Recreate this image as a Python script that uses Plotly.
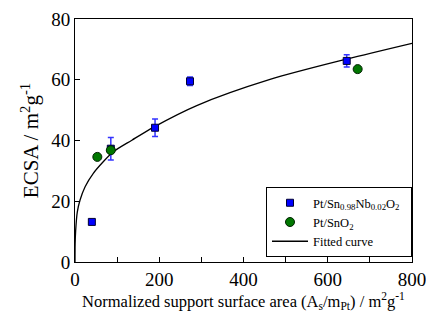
import plotly.graph_objects as go

# Pt/Sn0.98Nb0.02O2 (blue squares)
nb_x = [40, 85, 190, 273, 645]
nb_y = [13.2, 37.3, 44.2, 59.5, 66.2]
nb_err = [0, 3.7, 2.9, 1.4, 2.0]

# Pt/SnO2 (green circles)
sn_x = [53, 85, 671]
sn_y = [34.6, 36.8, 63.5]

# Fitted curve
fit_x = [0, 0.3, 1.6, 5.5, 12, 24, 43.5, 67, 91, 135, 188, 289, 463, 645, 800]
fit_y = [0, 6.0, 10.4, 16.5, 20.4, 24.8, 29.2, 33.0, 36.3, 40.1, 44.5, 51.5, 60.1, 66.8, 72.0]

serif = "Liberation Serif"

fig = go.Figure()
fig.add_trace(go.Scatter(
    x=fit_x, y=fit_y, mode="lines", name="Fitted curve", legendrank=3,
    line=dict(color="black", width=1.3, shape="spline", smoothing=0.8),
))
fig.add_trace(go.Scatter(
    x=nb_x, y=nb_y, mode="markers", legendrank=1,
    name="Pt/Sn<sub>0.98</sub>Nb<sub>0.02</sub>O<sub>2</sub>  ",
    marker=dict(symbol="square", size=7, color="#0000ff",
                line=dict(color="#000033", width=1)),
    error_y=dict(type="data", array=nb_err, visible=True, color="#3333ff",
                 thickness=1.5, width=3),
))
fig.add_trace(go.Scatter(
    x=sn_x, y=sn_y, mode="markers", name="Pt/SnO<sub>2</sub>", legendrank=2,
    marker=dict(symbol="circle", size=9, color="#007700",
                line=dict(color="#002200", width=1)),
))

fig.update_layout(
    width=426, height=321,
    margin=dict(l=75, r=14, t=19, b=59, autoexpand=False),
    paper_bgcolor="white", plot_bgcolor="white",
    font=dict(family=serif, color="black"),
    showlegend=True,
    legend=dict(
        x=1.0, xanchor="right", y=0.02, yanchor="bottom",
        bordercolor="black", borderwidth=1, bgcolor="white",
        font=dict(family=serif, size=12.5, color="black"),
        traceorder="normal", itemwidth=36, tracegroupgap=3,
    ),
)
fig.update_xaxes(
    range=[0, 800], tickvals=[0, 200, 400, 600, 800],
    ticks="inside", ticklen=5, tickcolor="black",
    minor=dict(tickvals=[100, 300, 500, 700], ticks="inside", ticklen=5, tickcolor="black"),
    showline=True, linecolor="black", linewidth=1, mirror=True,
    showgrid=False, zeroline=False, ticklabeloverflow="allow", automargin=False,
    tickfont=dict(family=serif, size=19),
    title=dict(text="Normalized support surface area (A<sub>s</sub>/m<sub>Pt</sub>) / m<sup>2</sup>g<sup>-1</sup>",
               font=dict(family=serif, size=16.5), standoff=6),
)
fig.update_yaxes(
    range=[0, 80], tickvals=[0, 20, 40, 60, 80],
    ticks="inside", ticklen=5, tickcolor="black",
    showline=True, linecolor="black", linewidth=1, mirror=True,
    showgrid=False, zeroline=False, automargin=False,
    tickfont=dict(family=serif, size=19),
    title=dict(text="ECSA / m<sup>2</sup>g<sup>-1</sup>", font=dict(family=serif, size=21), standoff=6),
)

fig.write_html("out.html")
